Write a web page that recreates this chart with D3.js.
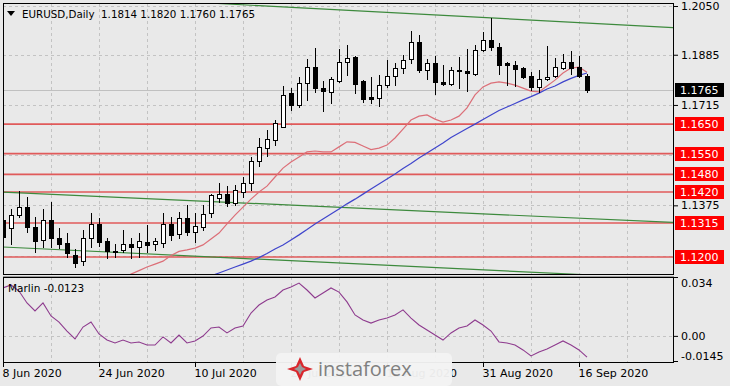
<!DOCTYPE html>
<html>
<head>
<meta charset="utf-8">
<script src="https://cdn.jsdelivr.net/npm/d3@7/dist/d3.min.js"></script>
<style>
  body { margin: 0; background: #e9e9e9; }
  svg { display: block; font-family: "DejaVu Sans", sans-serif; }
</style>
</head>
<body>
<div id="chart"></div>
<script>
var symbol = "EURUSD,Daily";
var lastBar = ["1.1814", "1.1820", "1.1760", "1.1765"];

// daily candles, 8 Jun 2020 .. 17 Sep 2020
var open = [1.1325,1.1298,1.1342,1.1371,1.1302,1.1258,1.1325,1.1264,1.1247,1.1207,
  1.1186,1.1264,1.1312,1.1254,1.1222,1.1224,1.1244,1.1234,1.1251,1.1244,
  1.1247,1.1312,1.1278,1.1332,1.1285,1.1300,1.1349,1.1400,1.1413,1.1383,
  1.1420,1.1450,1.1525,1.1569,1.1596,1.1640,1.1756,1.1715,1.1789,1.1843,
  1.1772,1.1759,1.1796,1.1860,1.1877,1.1796,1.1742,1.1739,1.1783,1.1813,
  1.1840,1.1871,1.1928,1.1833,1.1857,1.1793,1.1786,1.1834,1.1831,1.1820,
  1.1901,1.1935,1.1911,1.1857,1.1850,1.1840,1.1813,1.1776,1.1803,1.1813,
  1.1840,1.1860,1.1843,1.1814];
var high = [1.1340,1.1361,1.1422,1.1403,1.1336,1.1363,1.1386,1.1298,1.1281,1.1227,
  1.1291,1.1349,1.1332,1.1264,1.1244,1.1291,1.1264,1.1281,1.1308,1.1264,
  1.1349,1.1336,1.1352,1.1376,1.1349,1.1376,1.1413,1.1450,1.1440,1.1444,
  1.1471,1.1539,1.1603,1.1630,1.1664,1.1779,1.1772,1.1810,1.1871,1.1908,
  1.1796,1.1810,1.1904,1.1918,1.1882,1.1800,1.1810,1.1816,1.1867,1.1857,
  1.1884,1.1965,1.1952,1.1871,1.1881,1.1850,1.1843,1.1877,1.1904,1.1918,
  1.1962,1.2010,1.1925,1.1860,1.1864,1.1843,1.1826,1.1833,1.1914,1.1874,
  1.1887,1.1898,1.1881,1.1820];
var low = [1.1245,1.1243,1.1336,1.1285,1.1217,1.1234,1.1234,1.1230,1.1200,1.1166,
  1.1173,1.1234,1.1237,1.1197,1.1200,1.1217,1.1197,1.1200,1.1217,1.1224,
  1.1234,1.1258,1.1264,1.1275,1.1251,1.1290,1.1335,1.1386,1.1373,1.1376,
  1.1403,1.1427,1.1508,1.1542,1.1579,1.1640,1.1698,1.1708,1.1732,1.1759,
  1.1694,1.1721,1.1793,1.1816,1.1756,1.1725,1.1721,1.1711,1.1776,1.1783,
  1.1823,1.1857,1.1826,1.1803,1.1752,1.1783,1.1783,1.1773,1.1762,1.1816,
  1.1897,1.1900,1.1820,1.1783,1.1780,1.1806,1.1765,1.1759,1.1799,1.1810,
  1.1837,1.1820,1.1810,1.1760];
var close = [1.1268,1.1342,1.1371,1.1300,1.1254,1.1325,1.1264,1.1244,1.1214,1.1180,
  1.1264,1.1312,1.1251,1.1220,1.1219,1.1244,1.1234,1.1254,1.1240,1.1254,
  1.1312,1.1274,1.1332,1.1285,1.1305,1.1346,1.1410,1.1413,1.1383,1.1427,
  1.1450,1.1525,1.1573,1.1600,1.1654,1.1749,1.1715,1.1789,1.1843,1.1772,
  1.1762,1.1803,1.1860,1.1874,1.1786,1.1735,1.1735,1.1783,1.1813,1.1840,
  1.1867,1.1928,1.1833,1.1857,1.1793,1.1786,1.1833,1.1831,1.1822,1.1901,
  1.1935,1.1911,1.1850,1.1851,1.1837,1.1810,1.1776,1.1803,1.1810,1.1843,
  1.1860,1.1840,1.1813,1.1765];

// moving averages as drawn (first value belongs to bar maRedStart / maBlueStart)
var maRedStart = 15;
var maRed = [1.1129,1.1142,1.1154,1.1166,1.1176,1.1186,1.1205,1.1219,1.1224,1.1230,
  1.1241,1.1261,1.1281,1.1312,1.1342,1.1369,1.1396,1.1420,1.1440,1.1471,
  1.1501,1.1522,1.1539,1.1556,1.1559,1.1556,1.1556,1.1573,1.1590,1.1588,
  1.1576,1.1564,1.1569,1.1579,1.1603,1.1633,1.1664,1.1677,1.1681,1.1667,
  1.1657,1.1664,1.1677,1.1705,1.1749,1.1776,1.1789,1.1793,1.1789,1.1782,
  1.1772,1.1762,1.1759,1.1779,1.1799,1.1823,1.1840,1.1843,1.1826];
var maBlueStart = 26;
var maBlue = [1.1136,1.1146,1.1156,1.1166,1.1176,1.1186,1.1198,1.1212,1.1227,1.1241,
  1.1258,1.1275,1.1293,1.1312,1.1329,1.1346,1.1363,1.1380,1.1396,1.1413,
  1.1430,1.1447,1.1464,1.1481,1.1500,1.1517,1.1535,1.1552,1.1569,1.1586,
  1.1605,1.1620,1.1635,1.1650,1.1666,1.1681,1.1696,1.1708,1.1720,1.1732,
  1.1743,1.1755,1.1769,1.1779,1.1793,1.1805,1.1815,1.1823];

// Marlin oscillator, one value per bar
var marlin = [0.0277,0.0294,0.0259,0.0190,0.0144,0.0190,0.0115,0.0080,0.0028,-0.0018,
  0.0051,0.0080,0.0011,-0.0024,-0.0041,-0.0024,-0.0041,-0.0035,-0.0053,-0.0053,
  -0.0006,-0.0041,0.0005,-0.0041,-0.0029,-0.0001,0.0046,0.0051,0.0017,0.0046,
  0.0057,0.0132,0.0178,0.0207,0.0225,0.0265,0.0282,0.0305,0.0265,0.0219,
  0.0248,0.0277,0.0253,0.0196,0.0121,0.0092,0.0074,0.0092,0.0103,0.0121,
  0.0150,0.0103,0.0063,0.0034,0.0005,-0.0024,0.0017,0.0046,0.0057,0.0092,
  0.0063,0.0028,-0.0035,-0.0041,-0.0053,-0.0081,-0.0116,-0.0093,-0.0076,-0.0053,
  -0.0029,-0.0053,-0.0081,-0.0123];

// horizontal levels and trend lines [bar, price]
var levels = [1.1650, 1.1550, 1.1480, 1.1420, 1.1315, 1.1200];
var trendTop = [[49.6, 1.2026], [83.75, 1.1977]];
var trendMid = [[0, 1.1420], [83.75, 1.1317]];
var trendLow = [[0, 1.1234], [59.6, 1.1157]];

var priceGrid = [1.2050, 1.1885, 1.1715, 1.1545, 1.1375, 1.1205];
var priceTicks = [1.2050, 1.1885, 1.1715, 1.1375];
var marlinTicks = [0.034, 0.00, -0.0145];
var marlinTickText = ["0.034", "0.00", "-0.0145"];
var dateIdx = [0, 12, 24, 36, 48, 60, 72];
var dateLabels = ["8 Jun 2020", "24 Jun 2020", "10 Jul 2020", "28 Jul 2020", "13 Aug 2020", "31 Aug 2020", "16 Sep 2020"];

var W = 730, H = 386;
var left = 3, right = 673;
var mainTop = 3, mainBottom = 274;
var subTop = 277, subBottom = 362;

var x = d3.scaleLinear().domain([0, 83.75]).range([left, right]);
var y = d3.scaleLinear().domain([1.11425, 1.20602]).range([mainBottom, mainTop]);
var ym = d3.scaleLinear().domain([-0.0145, 0.034]).range([subBottom - 1, subTop]);

var svg = d3.select("#chart").append("svg")
  .attr("width", W)
  .attr("height", H);

svg.append("rect").attr("width", W).attr("height", H).attr("fill", "#e9e9e9");

var defs = svg.append("defs");
defs.append("clipPath").attr("id", "clipMain").append("rect")
  .attr("x", left).attr("y", mainTop).attr("width", right - left).attr("height", mainBottom - mainTop);
defs.append("clipPath").attr("id", "clipSub").append("rect")
  .attr("x", left).attr("y", subTop).attr("width", right - left).attr("height", subBottom - subTop);

// grid
var gridX = d3.range(0, 84, 6);
var grid = svg.append("g").attr("stroke", "#c3c3c3").attr("stroke-dasharray", "3,3")
  .attr("shape-rendering", "crispEdges");
gridX.forEach(function(i) {
  grid.append("line").attr("x1", Math.round(x(i)) + 0.5).attr("x2", Math.round(x(i)) + 0.5)
    .attr("y1", mainTop).attr("y2", mainBottom);
  grid.append("line").attr("x1", Math.round(x(i)) + 0.5).attr("x2", Math.round(x(i)) + 0.5)
    .attr("y1", subTop).attr("y2", subBottom);
});
priceGrid.forEach(function(p) {
  grid.append("line").attr("x1", left).attr("x2", right)
    .attr("y1", Math.round(y(p)) + 0.5).attr("y2", Math.round(y(p)) + 0.5);
});
grid.append("line").attr("x1", left).attr("x2", right)
  .attr("y1", Math.round(ym(0)) + 0.5).attr("y2", Math.round(ym(0)) + 0.5);

var main = svg.append("g").attr("clip-path", "url(#clipMain)");

// bid line
main.append("line").attr("x1", left).attr("x2", right)
  .attr("y1", Math.round(y(close[close.length - 1])) + 0.5)
  .attr("y2", Math.round(y(close[close.length - 1])) + 0.5)
  .attr("stroke", "#c0c0c0").attr("shape-rendering", "crispEdges");

// levels
main.selectAll(".level").data(levels).enter().append("line")
  .attr("x1", left).attr("x2", right)
  .attr("y1", function(d) { return y(d); })
  .attr("y2", function(d) { return y(d); })
  .attr("stroke", "#e05a5a")
  .attr("stroke-width", 1.6);

// trend lines
function trend(pts) {
  var a = pts[0], b = pts[1];
  var k = (b[1] - a[1]) / (b[0] - a[0]);
  var x0 = -2, x1 = 90;
  return [[x0, a[1] + k * (x0 - a[0])], [x1, a[1] + k * (x1 - a[0])]];
}
var tl = d3.line().x(function(d) { return x(d[0]); }).y(function(d) { return y(d[1]); });
[trendTop, trendMid, trendLow].forEach(function(t) {
  main.append("path").attr("d", tl(trend(t)))
    .attr("fill", "none").attr("stroke", "#3d8a3d").attr("stroke-width", 1.2);
});

// moving averages
var maLine = d3.line().x(function(d) { return x(d[0]); }).y(function(d) { return y(d[1]); });
main.append("path")
  .attr("d", maLine(maRed.map(function(v, i) { return [i + maRedStart, v]; })))
  .attr("fill", "none").attr("stroke", "#dc6f78").attr("stroke-width", 1.2);
main.append("path")
  .attr("d", maLine(maBlue.map(function(v, i) { return [i + maBlueStart, v]; })))
  .attr("fill", "none").attr("stroke", "#3f45cc").attr("stroke-width", 1.2);

// candles
var candles = main.selectAll(".candle").data(open).enter().append("g")
  .attr("shape-rendering", "crispEdges");
candles.each(function(d, i) {
  var g = d3.select(this);
  var cx = Math.round(x(i)) + 0.5;
  g.append("line")
    .attr("x1", cx).attr("x2", cx)
    .attr("y1", Math.round(y(high[i]))).attr("y2", Math.round(y(low[i])) + 1)
    .attr("stroke", "#000");
  var top = Math.round(y(Math.max(open[i], close[i])));
  var bot = Math.round(y(Math.min(open[i], close[i])));
  g.append("rect")
    .attr("x", cx - 2).attr("y", top + 0.5)
    .attr("width", 4).attr("height", Math.max(bot - top, 1))
    .attr("fill", close[i] >= open[i] ? "#fff" : "#000")
    .attr("stroke", "#000");
});

// marlin
var sub = svg.append("g").attr("clip-path", "url(#clipSub)");
sub.append("path")
  .attr("d", d3.line().x(function(d, i) { return x(i); }).y(function(d) { return ym(d); })(marlin))
  .attr("fill", "none").attr("stroke", "#8e3b8e").attr("stroke-width", 1.1);

// frames
svg.append("rect").attr("x", left + 0.5).attr("y", mainTop + 0.5)
  .attr("width", right - left).attr("height", mainBottom - mainTop)
  .attr("fill", "none").attr("stroke", "#000").attr("shape-rendering", "crispEdges");
svg.append("rect").attr("x", left + 0.5).attr("y", subTop + 0.5)
  .attr("width", right - left).attr("height", subBottom - subTop)
  .attr("fill", "none").attr("stroke", "#000").attr("shape-rendering", "crispEdges");
svg.append("line").attr("x1", left).attr("x2", right + 1).attr("y1", 276).attr("y2", 276)
  .attr("stroke", "#9a9a9a").attr("shape-rendering", "crispEdges");

// price axis
var yAxis = d3.axisRight(y).tickValues(priceTicks).tickFormat(d3.format(".4f"))
  .tickSize(4).tickPadding(3);
var ga = svg.append("g").attr("transform", "translate(" + (right + 1) + ",0)").call(yAxis);
ga.select(".domain").remove();
ga.selectAll("text").attr("font-size", 11).attr("font-family", "DejaVu Sans").attr("fill", "#000");

var marlinAxis = d3.axisRight(ym).tickValues(marlinTicks)
  .tickFormat(function(d, i) { return marlinTickText[i]; }).tickSize(4).tickPadding(3);
var gm = svg.append("g").attr("transform", "translate(" + (right + 1) + ",0)").call(marlinAxis);
gm.select(".domain").remove();
gm.selectAll("text").attr("font-size", 11).attr("font-family", "DejaVu Sans").attr("fill", "#000")
  .attr("dy", function(d, i) { return i == 0 ? "0.9em" : (i == 2 ? "-0.15em" : "0.32em"); });

// level labels
levels.forEach(function(p) {
  svg.append("rect").attr("x", right + 2).attr("y", Math.round(y(p)) - 7)
    .attr("width", 49).attr("height", 14).attr("fill", "#ff0000");
  svg.append("text").attr("x", right + 7).attr("y", y(p)).attr("dy", "0.36em")
    .attr("font-size", 11).attr("fill", "#fff").text(p.toFixed(4));
});
var last = close[close.length - 1];
svg.append("rect").attr("x", right + 2).attr("y", Math.round(y(last)) - 7)
  .attr("width", 49).attr("height", 14).attr("fill", "#000");
svg.append("text").attr("x", right + 7).attr("y", y(last)).attr("dy", "0.36em")
  .attr("font-size", 11).attr("fill", "#fff").text(last.toFixed(4));

// date axis
var xAxis = d3.axisBottom(x).tickValues(dateIdx)
  .tickFormat(function(d, i) { return dateLabels[i]; }).tickSize(4).tickPadding(2);
var gx = svg.append("g").attr("transform", "translate(0," + (subBottom + 1) + ")").call(xAxis);
gx.select(".domain").remove();
gx.selectAll("text").attr("font-size", 11).attr("font-family", "DejaVu Sans")
  .attr("fill", "#000").attr("text-anchor", "start").attr("x", -1);

// title
svg.append("path").attr("d", "M7,11 L15,11 L11,16 Z").attr("fill", "#000");
svg.append("text").attr("x", 22).attr("y", 18).attr("font-size", 10.3).attr("fill", "#000")
  .attr("xml:space", "preserve")
  .text(symbol + "  " + lastBar.join(" "));
svg.append("text").attr("x", 8).attr("y", 292).attr("font-size", 10.5).attr("fill", "#000")
  .text("Marlin " + marlin[marlin.length - 1].toFixed(4));

// watermark, covers the two middle date labels as in the original
var logo = svg.append("g").attr("transform", "translate(286,355)");
logo.append("rect").attr("x", -10).attr("y", -2).attr("width", 176).attr("height", 33)
  .attr("rx", 5).attr("fill", "#f3f3f3").attr("opacity", 0.96);
logo.append("path").attr("d", "M14,2 L18,11 L27,14 L18,17 L14,26 L10,17 L1,14 L10,11 Z")
  .attr("fill", "#d9262c");
logo.append("path").attr("d", "M14,8 L16,12 L20,14 L16,16 L14,20 L12,16 L8,14 L12,12 Z")
  .attr("fill", "#9a9a9a");
logo.append("text").attr("x", 32).attr("y", 21).attr("font-family", "Open Sans")
  .attr("font-size", 20).attr("fill", "#808080").text("instaforex");
</script>
</body>
</html>
